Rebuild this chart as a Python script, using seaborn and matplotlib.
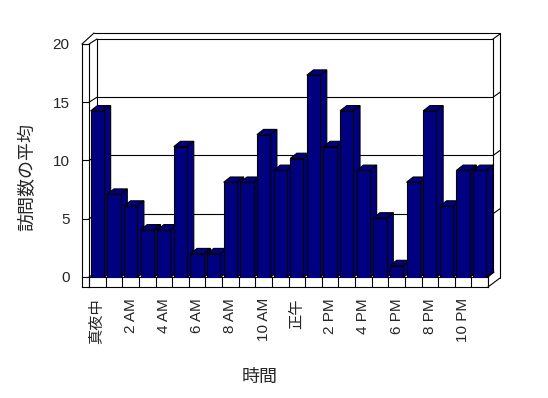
import numpy as np
import pandas as pd
import matplotlib
matplotlib.use("Agg")
import matplotlib.pyplot as plt
import seaborn as sns
from matplotlib.patches import Polygon
from matplotlib.lines import Line2D

# ---- data ----
hours = list(range(24))
visits = [14, 7, 6, 4, 4, 11, 2, 2, 8, 8, 12, 9, 10, 17, 11, 14, 9, 5, 1, 8, 14, 6, 9, 9]
hour_tick_pos = list(range(0, 24, 2))
hour_tick_labels = ["真夜中", "2 AM", "4 AM", "6 AM", "8 AM", "10 AM",
                    "正午", "2 PM", "4 PM", "6 PM", "8 PM", "10 PM"]
value_ticks = [0, 5, 10, 15, 20]

BAR_COLOR = "#000080"
LW = 0.8
W, H = 548, 398

sns.set_theme(style="white")
plt.rcParams["font.family"] = ["Liberation Sans", "Noto Sans CJK JP"]

fig = plt.figure(figsize=(W / 100, H / 100), dpi=100)
fig.patch.set_facecolor("white")


def box(x0, top, x1, bottom):
    """pixel box (y measured from top) -> figure fraction rect"""
    return [x0 / W, 1 - bottom / H, (x1 - x0) / W, (bottom - top) / H]


def px(x, y):
    return (x / W, 1 - y / H)


def frame_line(p0, p1):
    a, b = px(*p0), px(*p1)
    fig.add_artist(Line2D([a[0], b[0]], [a[1], b[1]], transform=fig.transFigure,
                          color="black", lw=LW))


# back wall with gridlines
ax_back = fig.add_axes(box(97, 39, 493, 272), zorder=0)
ax_back.set_xlim(0, 1)
ax_back.set_ylim(0, 20)
ax_back.set_xticks([])
ax_back.set_yticks([])
for v in value_ticks[1:-1]:
    ax_back.axhline(v, color="black", lw=LW)
for s in ax_back.spines.values():
    s.set_color("black")
    s.set_linewidth(LW)

# left wall front face carrying the value ticks
px_per_unit = (277 - 44) / 20
ax_wall = fig.add_axes(box(82, 44, 89, 287), zorder=1)
ax_wall.set_xlim(0, 1)
ax_wall.set_ylim(-10 / px_per_unit, 20)
ax_wall.set_xticks([])
ax_wall.set_yticks(value_ticks)
ax_wall.set_yticklabels([str(v) for v in value_ticks], fontsize=11)
ax_wall.tick_params(axis="y", length=0, pad=9)
for v in value_ticks:
    ax_wall.axhline(v, color="black", lw=LW)
for s in ax_wall.spines.values():
    s.set_color("black")
    s.set_linewidth(LW)

# floor front face with category separators
ax_floor = fig.add_axes(box(89, 277, 488, 287), zorder=1)
ax_floor.set_xlim(-0.5, 23.5)
ax_floor.set_ylim(0, 1)
ax_floor.vlines(np.arange(len(hours) + 1) - 0.5, 0, 1, color="black", lw=LW)
ax_floor.set_yticks([])
ax_floor.set_xticks(hour_tick_pos)
ax_floor.set_xticklabels(hour_tick_labels, rotation=90, fontsize=11)
ax_floor.tick_params(axis="x", length=0, pad=8)
for s in ax_floor.spines.values():
    s.set_color("black")
    s.set_linewidth(LW)

# diagonal gridline links from front ticks to back wall and onto right wall
for v in value_ticks:
    f = ax_wall.transData.transform((1, v))
    b = ax_back.transData.transform((0, v))
    r = ax_back.transData.transform((1, v))
    fig.add_artist(Line2D([f[0], b[0]], [f[1], b[1]], transform=None, color="black", lw=LW))
    if v > 0:
        fig.add_artist(Line2D([r[0], r[0] + 7], [r[1], r[1] + 5], transform=None,
                              color="black", lw=LW))

# wall / floor slab outlines
frame_line((82, 44), (94, 33))
frame_line((94, 33), (500, 33))
frame_line((500, 33), (500, 278))
frame_line((488, 287), (500, 278))
frame_line((488, 277), (494, 272))

# bars (front faces through seaborn)
ax = fig.add_axes(box(89, 39.5, 488, 277.5), zorder=2)
ax.patch.set_alpha(0)
df = pd.DataFrame({"hour": hours, "visits": visits})
sns.barplot(data=df, x="hour", y="visits", color=BAR_COLOR, saturation=1,
            width=0.8, edgecolor="black", linewidth=LW, ax=ax)
ax.set_xlim(-0.5, 23.5)
ax.set_ylim(0, 20)
ax.axis("off")

# fake 3-D depth: side and top faces
slot_px = (488 - 89) / 24
unit_px = (277.5 - 39.5) / 20
dx = 6.7 / slot_px
dy = 5.3 / unit_px
for p in list(ax.patches):
    x0, w, h = p.get_x(), p.get_width(), p.get_height()
    p.set_zorder(3)
    side = Polygon([(x0 + w, 0), (x0 + w + dx, dy), (x0 + w + dx, h + dy), (x0 + w, h)],
                   closed=True, facecolor=BAR_COLOR, edgecolor="black", lw=LW,
                   zorder=2, clip_on=False)
    top = Polygon([(x0, h), (x0 + w, h), (x0 + w + dx, h + dy), (x0 + dx, h + dy)],
                  closed=True, facecolor=BAR_COLOR, edgecolor="black", lw=LW,
                  zorder=2, clip_on=False)
    ax.add_patch(side)
    ax.add_patch(top)

# axis titles
fig.text(28 / W, 1 - 177 / H, "訪問数の平均", rotation=90, ha="center", va="center", fontsize=13)
fig.text(260 / W, 1 - 377 / H, "時間", ha="center", va="center", fontsize=13)

fig.savefig("out.png", dpi=100)
